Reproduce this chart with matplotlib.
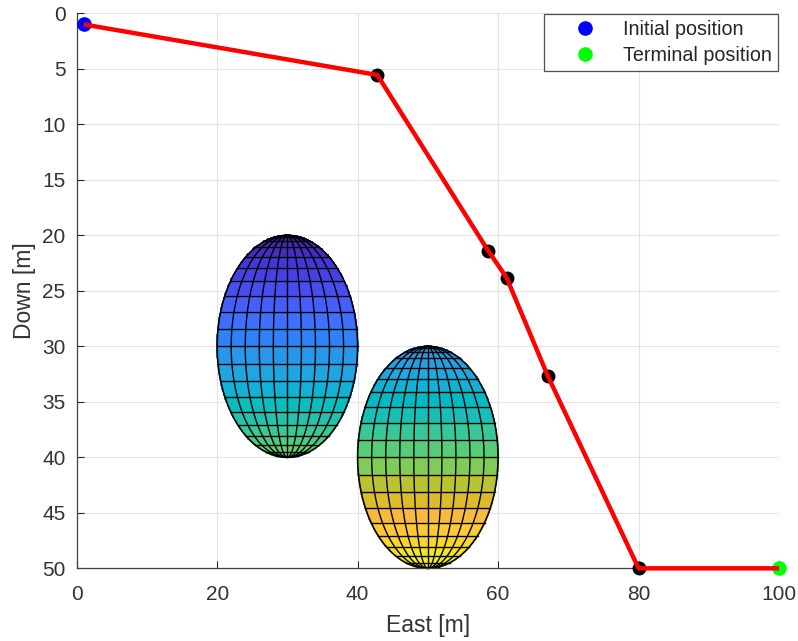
import numpy as np
import matplotlib
matplotlib.use("Agg")
import matplotlib.pyplot as plt
from matplotlib.colors import ListedColormap, Normalize

# ---------------- data ----------------
path_east = [1.0, 42.8, 58.6, 61.2, 67.1, 80.0, 100.0]
path_down = [1.0, 5.55, 21.4, 23.8, 32.7, 50.0, 50.0]
waypoint_east = [42.8, 58.6, 61.2, 67.1, 80.0]
waypoint_down = [5.55, 21.4, 23.8, 32.7, 50.0]
initial_pos = (1.0, 1.0)
terminal_pos = (100.0, 50.0)

obstacle_east = [30.0, 50.0]
obstacle_down = [30.0, 40.0]
obstacle_r_east = [10.0, 10.0]
obstacle_r_down = [10.0, 10.0]

xticks = [0, 20, 40, 60, 80, 100]
yticks = [0, 5, 10, 15, 20, 25, 30, 35, 40, 45, 50]

# parula-like colormap (MATLAB)
parula_pts = [
    (0.2422, 0.1504, 0.6603), (0.2504, 0.1650, 0.7076), (0.2578, 0.1818, 0.7511),
    (0.2647, 0.1978, 0.7952), (0.2706, 0.2147, 0.8364), (0.2751, 0.2342, 0.8710),
    (0.2783, 0.2559, 0.8991), (0.2803, 0.2782, 0.9221), (0.2813, 0.3006, 0.9414),
    (0.2810, 0.3228, 0.9579), (0.2795, 0.3447, 0.9717), (0.2760, 0.3667, 0.9829),
    (0.2699, 0.3892, 0.9906), (0.2602, 0.4123, 0.9952), (0.2440, 0.4358, 0.9988),
    (0.2206, 0.4603, 0.9973), (0.1963, 0.4847, 0.9892), (0.1834, 0.5074, 0.9798),
    (0.1786, 0.5289, 0.9682), (0.1764, 0.5499, 0.9520), (0.1687, 0.5703, 0.9359),
    (0.1540, 0.5902, 0.9218), (0.1460, 0.6091, 0.9079), (0.1380, 0.6276, 0.8973),
    (0.1248, 0.6459, 0.8883), (0.1113, 0.6635, 0.8763), (0.0952, 0.6798, 0.8598),
    (0.0689, 0.6948, 0.8394), (0.0297, 0.7082, 0.8163), (0.0036, 0.7203, 0.7917),
    (0.0067, 0.7312, 0.7660), (0.0433, 0.7411, 0.7394), (0.0964, 0.7500, 0.7120),
    (0.1408, 0.7584, 0.6842), (0.1717, 0.7670, 0.6554), (0.1938, 0.7758, 0.6251),
    (0.2161, 0.7843, 0.5923), (0.2470, 0.7918, 0.5567), (0.2906, 0.7973, 0.5188),
    (0.3406, 0.8008, 0.4789), (0.3909, 0.8029, 0.4354), (0.4456, 0.8024, 0.3909),
    (0.5044, 0.7993, 0.3480), (0.5616, 0.7942, 0.3045), (0.6174, 0.7876, 0.2612),
    (0.6720, 0.7793, 0.2227), (0.7242, 0.7698, 0.1910), (0.7738, 0.7598, 0.1646),
    (0.8203, 0.7498, 0.1535), (0.8634, 0.7406, 0.1596), (0.9035, 0.7330, 0.1774),
    (0.9393, 0.7288, 0.2100), (0.9728, 0.7298, 0.2394), (0.9956, 0.7434, 0.2371),
    (0.9970, 0.7659, 0.2199), (0.9952, 0.7893, 0.2028), (0.9892, 0.8136, 0.1885),
    (0.9786, 0.8386, 0.1766), (0.9676, 0.8639, 0.1643), (0.9610, 0.8890, 0.1537),
    (0.9597, 0.9135, 0.1423), (0.9628, 0.9373, 0.1265), (0.9691, 0.9606, 0.1064),
    (0.9769, 0.9839, 0.0805)]
parula = ListedColormap(parula_pts)

# ---------------- figure ----------------
plt.rcParams['font.family'] = ['Liberation Sans', 'DejaVu Sans']
fig = plt.figure(figsize=(7.98, 6.41), dpi=100)
ax = fig.add_axes([0.0961, 0.1134, 0.9762 - 0.0961, 0.9792 - 0.1134])

ax.set_axisbelow(True)
ax.grid(True, color='#e3e3e3', linewidth=0.8)

# ellipsoids: 20 latitude bands, 10 visible meridian strips
n_lat, n_lon, sub = 20, 10, 8
lat_c = np.linspace(0, np.pi, n_lat + 1)
s_c = np.linspace(-1, 1, n_lon + 1)
lat_f = np.linspace(0, np.pi, n_lat * sub + 1)
s_f = np.linspace(-1, 1, n_lon * sub + 1)
all_down = []
for cd, rd in zip(obstacle_down, obstacle_r_down):
    all_down += [cd - rd, cd + rd]
norm = Normalize(vmin=min(all_down), vmax=max(all_down))
for ce, cd, re_, rd in zip(obstacle_east, obstacle_down, obstacle_r_east, obstacle_r_down):
    LAT, S = np.meshgrid(lat_f, s_f, indexing='ij')
    X = ce + re_ * np.sin(LAT) * S
    Y = cd - rd * np.cos(LAT)
    band_top = cd - rd * np.cos(lat_c[:-1])           # value at top edge of each band
    C = np.repeat(band_top, sub)[:, None] * np.ones((1, n_lon * sub))
    ax.pcolormesh(X, Y, C, cmap=parula, norm=norm, shading='flat',
                  edgecolors='face', linewidth=0.2, zorder=2)
    # latitude lines
    for la in lat_c[1:-1]:
        w = re_ * np.sin(la)
        yy = cd - rd * np.cos(la)
        ax.plot([ce - w, ce + w], [yy, yy], color='black', lw=1.0, zorder=2.5)
    # meridian lines
    for k, s in enumerate(s_c):
        lw = 1.2 if k in (0, n_lon) else 1.0
        ax.plot(ce + re_ * np.sin(lat_f) * s, cd - rd * np.cos(lat_f),
                color='black', lw=lw, zorder=2.5, clip_on=False)

# path
ax.plot(waypoint_east, waypoint_down, 'o', color='black', markersize=9, zorder=6,
        clip_on=False)
ax.plot([initial_pos[0]], [initial_pos[1]], 'o', color='#0000ff', markersize=9.5,
        zorder=6, label='Initial position', clip_on=False)
ax.plot([terminal_pos[0]], [terminal_pos[1]], 'o', color='#00ff00', markersize=9.5,
        zorder=6, label='Terminal position', clip_on=False)
ax.plot(path_east, path_down, '-', color='#ff0000', linewidth=3.2, zorder=7,
        solid_capstyle='butt', clip_on=False)

ax.set_xlim(0, 100)
ax.set_ylim(50, 0)
ax.set_xticks(xticks)
ax.set_yticks(yticks)
ax.tick_params(direction='in', length=5, width=0.8, colors='#262626', labelsize=15)
ax.tick_params(axis='x', pad=12)
ax.tick_params(axis='y', pad=8)
for lab in ax.get_xticklabels() + ax.get_yticklabels():
    lab.set_color('#333333')

for s in ['top', 'right']:
    ax.spines[s].set_visible(False)
for s in ['left', 'bottom']:
    ax.spines[s].set_color('#404040')
    ax.spines[s].set_linewidth(0.9)
    ax.spines[s].set_zorder(5)

ax.set_xlabel('East [m]', fontsize=16.5, color='#333333', labelpad=7)
ax.set_ylabel('Down [m]', fontsize=16.5, color='#333333', labelpad=4.5)

leg = ax.legend(loc='upper right', bbox_to_anchor=(0.998, 0.999), fontsize=14.2,
                frameon=True, fancybox=False, edgecolor='#262626',
                handletextpad=0.1, borderpad=0.3, labelspacing=0.35,
                handlelength=3.6, borderaxespad=0.0)
leg.get_frame().set_linewidth(0.9)
leg.set_zorder(10)
for t in leg.get_texts():
    t.set_color('#262626')

fig.savefig('out.png', dpi=100)
